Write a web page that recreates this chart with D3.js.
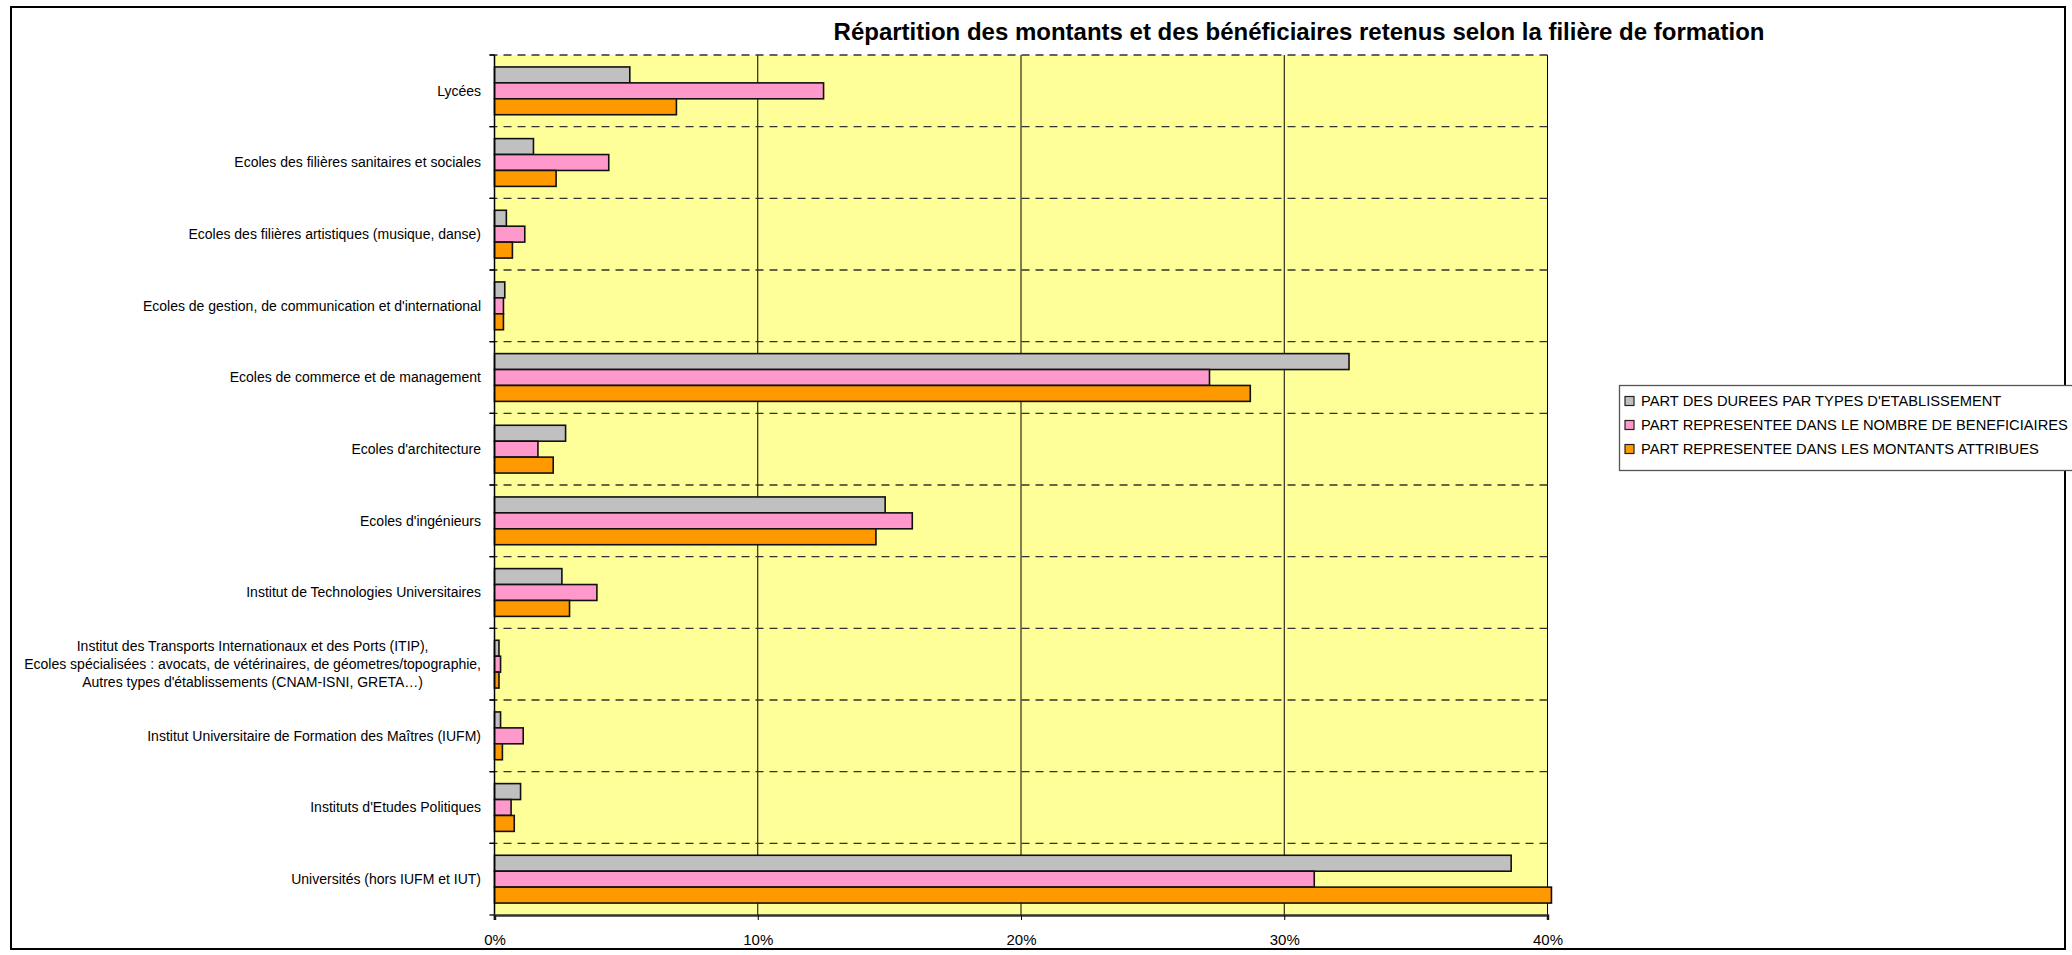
<!DOCTYPE html>
<html>
<head>
<meta charset="utf-8">
<script src="https://cdn.jsdelivr.net/npm/d3@7"></script>
<style>
  html, body { margin: 0; padding: 0; background: #fff; }
  svg { display: block; font-family: "Liberation Sans", Arial, sans-serif; }
</style>
</head>
<body>
<svg id="chart" width="2072" height="955"></svg>
<script>
const title = "Répartition des montants et des bénéficiaires retenus selon la filière de formation";

const categories = [
  "Lycées",
  "Ecoles des filières sanitaires et sociales",
  "Ecoles des filières artistiques (musique, danse)",
  "Ecoles de gestion, de communication et d'international",
  "Ecoles de commerce et de management",
  "Ecoles d'architecture",
  "Ecoles d'ingénieurs",
  "Institut de Technologies Universitaires",
  "Institut des Transports Internationaux et des Ports (ITIP),\nEcoles spécialisées : avocats, de vétérinaires, de géometres/topographie,\nAutres types d'établissements (CNAM-ISNI, GRETA…)",
  "Institut Universitaire de Formation des Maîtres (IUFM)",
  "Instituts d'Etudes Politiques",
  "Universités (hors IUFM et IUT)"
];

const seriesNames = [
  "PART DES DUREES PAR TYPES D'ETABLISSEMENT",
  "PART REPRESENTEE DANS LE NOMBRE DE BENEFICIAIRES",
  "PART REPRESENTEE DANS LES MONTANTS ATTRIBUES"
];

const dureesValues        = [5.14, 1.48, 0.45, 0.39, 32.46, 2.70, 14.84, 2.56, 0.17, 0.23, 0.99, 38.62];
const beneficiairesValues = [12.50, 4.34, 1.15, 0.34, 27.16, 1.65, 15.87, 3.89, 0.23, 1.09, 0.63, 31.14];
const montantsValues      = [6.91, 2.34, 0.68, 0.34, 28.71, 2.23, 14.49, 2.85, 0.17, 0.30, 0.75, 40.15];

const xTicks = [0, 10, 20, 30, 40];
const seriesColors = ["#C0C0C0", "#FF99CC", "#FF9900"];

const seriesValues = [dureesValues, beneficiairesValues, montantsValues];

const svg = d3.select("#chart");
const plot = { left: 494.5, right: 1547.5, top: 55, bottom: 915 };

// outer chart border
svg.append("rect")
  .attr("x", 11).attr("y", 7).attr("width", 2054).attr("height", 942)
  .attr("fill", "#fff").attr("stroke", "#000").attr("stroke-width", 2);

// title
svg.append("text")
  .attr("x", 1299).attr("y", 40)
  .attr("text-anchor", "middle")
  .attr("font-weight", "bold")
  .attr("font-size", 24)
  .attr("fill", "#000")
  .text(title);

const x = d3.scaleLinear().domain([0, 40]).range([plot.left, plot.right]);
const y0 = d3.scaleBand().domain(categories).range([plot.top, plot.bottom]).padding(0);
const y1 = d3.scaleBand().domain(d3.range(3)).range([0, y0.bandwidth()]).paddingInner(0).paddingOuter(0.75);

// plot background
svg.append("rect")
  .attr("x", plot.left).attr("y", plot.top)
  .attr("width", plot.right - plot.left).attr("height", plot.bottom - plot.top)
  .attr("fill", "#FFFF99");

// vertical gridlines
svg.append("g").selectAll("line").data(xTicks.filter(d => d > 0)).join("line")
  .attr("x1", d => x(d)).attr("x2", d => x(d))
  .attr("y1", plot.top).attr("y2", plot.bottom)
  .attr("stroke", "#000").attr("stroke-width", 1);

// horizontal dashed category separators (with outside tick)
const boundaries = categories.map(c => y0(c));
svg.append("g").selectAll("line").data(boundaries).join("line")
  .attr("x1", plot.left - 5).attr("x2", plot.right)
  .attr("y1", d => d).attr("y2", d => d)
  .attr("stroke", "#333").attr("stroke-width", 1.3)
  .attr("stroke-dasharray", "8,6");

// bars
const barData = [];
categories.forEach((c, i) => {
  seriesValues.forEach((vals, s) => {
    barData.push({ cat: c, s: s, v: vals[i] });
  });
});
svg.append("g").selectAll("rect").data(barData).join("rect")
  .attr("x", x(0))
  .attr("y", d => y0(d.cat) + y1(d.s))
  .attr("width", d => x(d.v) - x(0))
  .attr("height", y1.bandwidth())
  .attr("fill", d => seriesColors[d.s])
  .attr("stroke", "#111")
  .attr("stroke-width", 1.6);

// left axis line
svg.append("line")
  .attr("x1", plot.left).attr("x2", plot.left)
  .attr("y1", plot.top).attr("y2", plot.bottom + 5)
  .attr("stroke", "#000").attr("stroke-width", 1.5);
// category boundary ticks
svg.append("g").selectAll("line").data(boundaries.concat([plot.bottom])).join("line")
  .attr("x1", plot.left - 5).attr("x2", plot.left)
  .attr("y1", d => d).attr("y2", d => d)
  .attr("stroke", "#000").attr("stroke-width", 1.3);

// bottom axis
const xAxis = d3.axisBottom(x).tickValues(xTicks).tickFormat(d => d + "%").tickSize(5).tickPadding(14);
const gx = svg.append("g").attr("transform", `translate(0,${plot.bottom})`).call(xAxis);
gx.select(".domain").attr("stroke", "#333").attr("stroke-width", 2.5);
gx.selectAll(".tick line").attr("stroke", "#000");
gx.selectAll(".tick text").attr("font-size", 15).attr("fill", "#000")
  .attr("font-family", "Liberation Sans, Arial, sans-serif");

// category labels
const labelRight = 481;
const labelG = svg.append("g").attr("font-size", 14).attr("fill", "#000");
categories.forEach(c => {
  const lines = c.split("\n");
  const cy = y0(c) + y0.bandwidth() / 2;
  const lh = 18;
  if (lines.length === 1) {
    labelG.append("text").attr("x", labelRight).attr("y", cy)
      .attr("dy", "0.35em").attr("text-anchor", "end").text(c);
  } else {
    const g = labelG.append("g");
    const texts = lines.map((ln, i) => g.append("text")
      .attr("y", cy + (i - (lines.length - 1) / 2) * lh)
      .attr("dy", "0.35em").attr("text-anchor", "middle").text(ln));
    const maxW = d3.max(texts, t => t.node().getComputedTextLength());
    texts.forEach(t => t.attr("x", labelRight - maxW / 2));
  }
});

// legend
const lg = svg.append("g");
lg.append("rect")
  .attr("x", 1619.5).attr("y", 385.5).attr("width", 460).attr("height", 85)
  .attr("fill", "#fff").attr("stroke", "#555").attr("stroke-width", 1.3);
seriesNames.forEach((name, i) => {
  const cy = 401 + i * 24;
  lg.append("rect")
    .attr("x", 1625).attr("y", cy - 4.5).attr("width", 9).attr("height", 9)
    .attr("fill", seriesColors[i]).attr("stroke", "#222").attr("stroke-width", 1.2);
  lg.append("text")
    .attr("x", 1641).attr("y", cy).attr("dy", "0.36em")
    .attr("font-size", 14.7).attr("fill", "#000")
    .text(name);
});
</script>
</body>
</html>
